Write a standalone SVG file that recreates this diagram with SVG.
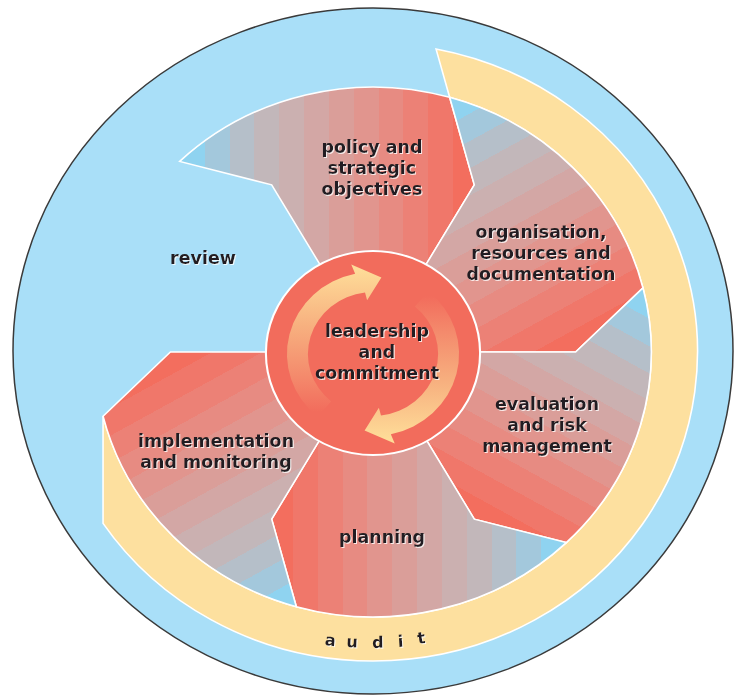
<svg xmlns="http://www.w3.org/2000/svg" width="735" height="696" viewBox="0 0 735 696">
<defs>
<linearGradient id="pg" gradientUnits="userSpaceOnUse" x1="-184" y1="0" x2="100" y2="0">
<stop offset="0" stop-color="#8fd3f0"/><stop offset=".083" stop-color="#8fd3f0"/>
<stop offset=".083" stop-color="#a3c8dc"/><stop offset=".167" stop-color="#a3c8dc"/>
<stop offset=".167" stop-color="#b5bfc9"/><stop offset=".25" stop-color="#b5bfc9"/>
<stop offset=".25" stop-color="#c2b7ba"/><stop offset=".333" stop-color="#c2b7ba"/>
<stop offset=".333" stop-color="#cbb0b0"/><stop offset=".417" stop-color="#cbb0b0"/>
<stop offset=".417" stop-color="#d3a7a5"/><stop offset=".5" stop-color="#d3a7a5"/>
<stop offset=".5" stop-color="#da9e99"/><stop offset=".583" stop-color="#da9e99"/>
<stop offset=".583" stop-color="#e1958e"/><stop offset=".667" stop-color="#e1958e"/>
<stop offset=".667" stop-color="#e78b82"/><stop offset=".75" stop-color="#e78b82"/>
<stop offset=".75" stop-color="#ec8176"/><stop offset=".833" stop-color="#ec8176"/>
<stop offset=".833" stop-color="#f0776a"/><stop offset=".917" stop-color="#f0776a"/>
<stop offset=".917" stop-color="#f36e5e"/><stop offset="1" stop-color="#f36e5e"/>
</linearGradient>
<linearGradient id="ag" gradientUnits="userSpaceOnUse" x1="0" y1="58" x2="0" y2="-85">
<stop offset="0" stop-color="#f26c5c"/>
<stop offset=".25" stop-color="#f48a6c"/>
<stop offset=".6" stop-color="#f7b07f"/>
<stop offset="1" stop-color="#fedc98"/>
</linearGradient>
<filter id="halo" x="-10%" y="-30%" width="120%" height="160%">
<feDropShadow dx="1" dy="1" stdDeviation="0.5" flood-color="#ffffff" flood-opacity="0.8"/>
</filter>
</defs>
<style>
.petal{stroke:#ffffff;stroke-width:1.5;fill:url(#pg)}
.lbl{font-family:"DejaVu Sans","Liberation Sans",sans-serif;font-weight:700;font-size:17.5px;fill:#231f20;text-anchor:middle;filter:url(#halo)}
.arrow{fill:url(#ag)}
</style>

<g id="background">
<ellipse cx="373" cy="351" rx="360" ry="343" fill="#a9dff8" stroke="#3a3a3a" stroke-width="1.5"/>
</g>

<g id="audit">
<path transform="translate(373,352) scale(1.05,1)" d="M60,-303.1 L73,-254.7 A265,265 0 1 1 -257.1,64.1 L-257.1,171.4 A309,309 0 1 0 60,-303.1 Z" fill="#fde09f" stroke="#ffffff" stroke-width="1.5"/>
<text class="lbl" style="font-size:16px" x="330 352 378 401 422" y="645 647 648 647 644" rotate="7 3 -1 -4 -8">audit</text>
</g>

<g id="review">
<text class="lbl" x="203" y="264">review</text>
</g>

<g id="policy">
<path class="petal" transform="translate(373,352) scale(1.05,1)" d="M50,-86.6 L96.5,-167.1 L73,-254.7 A265,265 0 0 0 -184.1,-190.6 L-96.5,-167.1 L-50,-86.6 A100,100 0 0 1 50,-86.6 Z"/>
<text class="lbl" x="372" y="153">policy and</text>
<text class="lbl" x="372" y="174">strategic</text>
<text class="lbl" x="372" y="195">objectives</text>
</g>

<g id="organisation">
<path class="petal" transform="translate(373,352) scale(1.05,1) rotate(60)" d="M50,-86.6 L96.5,-167.1 L73,-254.7 A265,265 0 0 0 -184.1,-190.6 L-96.5,-167.1 L-50,-86.6 A100,100 0 0 1 50,-86.6 Z"/>
<text class="lbl" x="541" y="238">organisation,</text>
<text class="lbl" x="541" y="259">resources and</text>
<text class="lbl" x="541" y="280">documentation</text>
</g>

<g id="evaluation">
<path class="petal" transform="translate(373,352) scale(1.05,1) rotate(120)" d="M50,-86.6 L96.5,-167.1 L73,-254.7 A265,265 0 0 0 -184.1,-190.6 L-96.5,-167.1 L-50,-86.6 A100,100 0 0 1 50,-86.6 Z"/>
<text class="lbl" x="547" y="410">evaluation</text>
<text class="lbl" x="547" y="431">and risk</text>
<text class="lbl" x="547" y="452">management</text>
</g>

<g id="planning">
<path class="petal" transform="translate(373,352) scale(1.05,1) rotate(180)" d="M50,-86.6 L96.5,-167.1 L73,-254.7 A265,265 0 0 0 -184.1,-190.6 L-96.5,-167.1 L-50,-86.6 A100,100 0 0 1 50,-86.6 Z"/>
<text class="lbl" x="382" y="543">planning</text>
</g>

<g id="implementation">
<path class="petal" transform="translate(373,352) scale(1.05,1) rotate(240)" d="M50,-86.6 L96.5,-167.1 L73,-254.7 A265,265 0 0 0 -184.1,-190.6 L-96.5,-167.1 L-50,-86.6 A100,100 0 0 1 50,-86.6 Z"/>
<text class="lbl" x="216" y="447">implementation</text>
<text class="lbl" x="216" y="468">and monitoring</text>
</g>

<g id="leadership">
<circle transform="translate(373,352) scale(1.05,1)" cx="0" cy="1" r="102" fill="#f26c5c" stroke="#ffffff" stroke-width="2"/>
</g>

<g id="connectors">
<path class="arrow" transform="translate(373,354) scale(1.05,1)" d="M-52.7,62.8 A82,82 0 0 1 -17,-80.2 L-20.7,-89.6 L8,-76.6 L-5.6,-53.7 L-7.6,-61.5 A62,62 0 0 0 -39.9,47.5 Z"/>
<path class="arrow" transform="translate(373,354) scale(1.05,1) rotate(180)" d="M-52.7,62.8 A82,82 0 0 1 -17,-80.2 L-20.7,-89.6 L8,-76.6 L-5.6,-53.7 L-7.6,-61.5 A62,62 0 0 0 -39.9,47.5 Z"/>
</g>

<g id="leadership-label">
<text class="lbl" x="377" y="337">leadership</text>
<text class="lbl" x="377" y="358">and</text>
<text class="lbl" x="377" y="379">commitment</text>
</g>
</svg>
